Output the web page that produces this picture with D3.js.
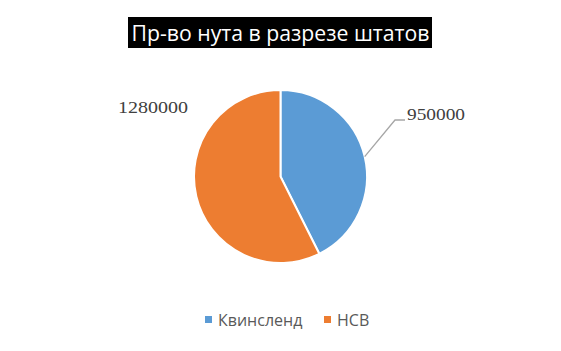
<!DOCTYPE html>
<html>
<head>
<meta charset="utf-8">
<script src="https://cdn.jsdelivr.net/npm/d3@7"></script>
<style>
  body { margin: 0; background: #fff; }
  svg { display: block; }
</style>
</head>
<body>
<div id="chart"></div>
<script>
const title = "Пр-во нута в разрезе штатов";
const categories = ["Квинсленд", "НСВ"];
const values = [950000, 1280000];
const colors = ["#5B9BD5", "#ED7D31"];

const width = 561, height = 351;
const cx = 280.5, cy = 176.5, radius = 86.5;

const svg = d3.select("#chart")
    .append("svg")
    .attr("width", width)
    .attr("height", height);

// Title with black box
svg.append("rect")
    .attr("x", 128)
    .attr("y", 17)
    .attr("width", 304)
    .attr("height", 31)
    .attr("fill", "#000");
svg.append("text")
    .attr("x", cx)
    .attr("y", 41)
    .attr("text-anchor", "middle")
    .attr("fill", "#fff")
    .attr("textLength", 298)
    .attr("lengthAdjust", "spacingAndGlyphs")
    .style("font-family", "'Open Sans', sans-serif")
    .style("font-size", "22px")
    .text(title);

const data = categories.map((c, i) => ({ name: c, value: values[i], color: colors[i] }));

const pie = d3.pie().sort(null).value(d => d.value);
const arc = d3.arc().innerRadius(0).outerRadius(radius);
const arcs = pie(data);

const g = svg.append("g").attr("transform", `translate(${cx},${cy})`);

g.selectAll("path")
    .data(arcs)
    .enter()
    .append("path")
    .attr("d", arc)
    .attr("fill", d => d.data.color)
    .attr("stroke", "#fff")
    .attr("stroke-width", 2)
    .attr("stroke-linejoin", "round");

// Data labels
const labelFont = "'Liberation Serif', 'Times New Roman', serif";

// Квинсленд label with leader line
const a0 = arcs[0];
const mid0 = (a0.startAngle + a0.endAngle) / 2;
const p0 = [Math.sin(mid0) * radius, -Math.cos(mid0) * radius];
g.append("polyline")
    .attr("points", [p0, [114.5, -56.5], [124.5, -56.5]].map(p => p.join(",")).join(" "))
    .attr("fill", "none")
    .attr("stroke", "#A6A6A6")
    .attr("stroke-width", 1.3);
g.append("text")
    .attr("x", 126.5)
    .attr("y", -56.5)
    .attr("textLength", 58)
    .attr("lengthAdjust", "spacingAndGlyphs")
    .attr("fill", "#404040")
    .style("font-family", labelFont)
    .style("font-size", "17px")
    .text(d3.format("d")(a0.data.value));

// НСВ label
const a1 = arcs[1];
g.append("text")
    .attr("x", -162.5)
    .attr("y", -63.5)
    .attr("textLength", 70)
    .attr("lengthAdjust", "spacingAndGlyphs")
    .attr("fill", "#404040")
    .style("font-family", labelFont)
    .style("font-size", "17px")
    .text(d3.format("d")(a1.data.value));

// Legend
const legendX = [205, 324];
const legend = svg.append("g");
data.forEach((d, i) => {
    legend.append("rect")
        .attr("x", legendX[i])
        .attr("y", 316)
        .attr("width", 7)
        .attr("height", 7)
        .attr("fill", d.color);
    legend.append("text")
        .attr("x", legendX[i] + 13)
        .attr("y", 320)
        .attr("dy", "0.35em")
        .attr("fill", "#595959")
        .style("font-family", "'Open Sans', sans-serif")
        .style("font-size", "16px")
        .text(d.name);
});
</script>
</body>
</html>
